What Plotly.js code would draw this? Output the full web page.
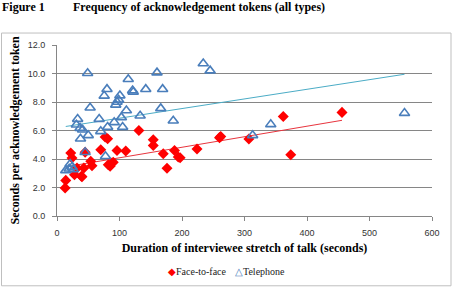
<!DOCTYPE html>
<html>
<head>
<meta charset="utf-8">
<script src="https://cdn.plot.ly/plotly-3.0.1.min.js"></script>
<style>
  html, body { margin: 0; padding: 0; background: #fff; }
  #chart { width: 455px; height: 296px; }
</style>
</head>
<body>
<div id="chart"></div>
<script>
// Face-to-face interviews: stretch duration (s) vs seconds per acknowledgement token
const faceX = [13, 14, 22, 24, 28, 32, 39, 40, 43, 45, 54, 56, 70, 77, 81, 82, 85, 88, 90, 96,
               110, 131, 154, 154, 170, 176, 188, 194, 197, 224, 260, 262, 307, 362, 374, 456];
const faceY = [1.97, 2.5, 4.42, 4.07, 2.9, 3.37, 2.79, 2.75, 3.37, 4.47, 3.84, 3.53, 4.65, 5.54, 5.42, 3.6, 3.49, 3.72, 3.77, 4.6,
               4.56, 6.0, 5.35, 4.95, 4.37, 3.35, 4.6, 4.14, 4.09, 4.7, 5.5, 5.58, 5.4, 6.98, 4.3, 7.27];

// Telephone interviews
const telX = [14, 19.5, 21, 24, 26, 31, 33, 37, 37.6, 41, 45, 49, 50, 53, 67.5, 70, 75.5, 77.6, 80, 81,
              91.5, 94, 96, 98.5, 100.6, 103, 105, 111, 114, 121, 122, 133, 142, 160, 166, 169, 186,
              234, 245, 313, 342, 556];
const telY = [3.2, 3.32, 3.65, 3.44, 3.26, 6.4, 6.8, 6.17, 5.42, 6.05, 4.47, 10.02, 5.66, 7.6, 6.8, 5.94, 8.43, 4.19, 8.9, 6.24,
              6.57, 7.8, 8.0, 8.15, 8.45, 6.92, 6.24, 7.4, 9.6, 8.8, 8.7, 7.03, 8.9, 10.06, 7.55, 8.9, 6.68,
              10.7, 10.2, 5.66, 6.43, 7.22];

const seriesNames = ['Face-to-face', 'Telephone'];
const xTicks = [0, 100, 200, 300, 400, 500, 600];
const yTicks = [0, 2, 4, 6, 8, 10, 12];

const faceColor = '#FF0000';
const telColor = '#4A7EBB';

// Ordinary least-squares line spanning the range of a series
function linearTrend(xs, ys) {
  const n = xs.length;
  const mx = xs.reduce((a, b) => a + b, 0) / n;
  const my = ys.reduce((a, b) => a + b, 0) / n;
  let sxy = 0, sxx = 0;
  for (let i = 0; i < n; i++) {
    sxy += (xs[i] - mx) * (ys[i] - my);
    sxx += (xs[i] - mx) * (xs[i] - mx);
  }
  const slope = sxy / sxx;
  const icpt = my - slope * mx;
  const x0 = Math.min(...xs), x1 = Math.max(...xs);
  return { x: [x0, x1], y: [icpt + slope * x0, icpt + slope * x1] };
}

const faceFit = linearTrend(faceX, faceY);
const telFit = linearTrend(telX, telY);

const serif = 'Liberation Serif, Times New Roman, serif';
const sans = 'Liberation Sans, Arial, sans-serif';

const traces = [
  {
    x: faceFit.x, y: faceFit.y, mode: 'lines', showlegend: false, hoverinfo: 'skip',
    line: { color: '#E8353E', width: 1 }
  },
  {
    x: telFit.x, y: telFit.y, mode: 'lines', showlegend: false, hoverinfo: 'skip',
    line: { color: '#4BACC6', width: 1 }
  },
  {
    name: seriesNames[0], x: faceX, y: faceY, mode: 'markers', type: 'scatter', showlegend: false,
    marker: { symbol: 'diamond', size: 8.5, color: faceColor }
  },
  {
    name: seriesNames[1], x: telX, y: telY, mode: 'markers', type: 'scatter', showlegend: false,
    marker: { symbol: 'triangle-up-open', size: 9, color: telColor, line: { width: 1.6, color: telColor } }
  }
];

// Compact key below the axis title: one entry per series
function keyEntry(symbol, color, label, px) {
  return {
    text: '<span style="color:' + color + '">' + symbol + '</span>' + label,
    xref: 'paper', yref: 'paper', x: (px - 57) / 375, y: -55.5 / 171.5,
    xanchor: 'left', yanchor: 'middle', showarrow: false,
    font: { family: serif, size: 10, color: '#222' }
  };
}

const layout = {
  width: 455, height: 296,
  paper_bgcolor: '#ffffff', plot_bgcolor: '#ffffff',
  margin: { l: 57, r: 23, t: 45, b: 79.5 },
  showlegend: false,
  xaxis: {
    range: [0, 600], tickvals: xTicks, ticktext: xTicks.map(String),
    showgrid: false, zeroline: false, showline: true, linecolor: '#868686', linewidth: 1,
    ticks: 'outside', ticklen: 4, tickcolor: '#868686', ticklabelstandoff: 4,
    tickfont: { family: sans, size: 9, color: '#333' },
    title: { text: '<b>Duration of interviewee stretch of talk (seconds)</b>', font: { family: serif, size: 12, color: '#000' }, standoff: 6 }
  },
  yaxis: {
    range: [0, 12], tickvals: yTicks, ticktext: yTicks.map(v => v.toFixed(1)),
    showgrid: true, gridcolor: '#868686', gridwidth: 1, zeroline: false,
    showline: true, linecolor: '#868686', linewidth: 1,
    ticks: 'outside', ticklen: 4, tickcolor: '#868686', ticklabelstandoff: 5,
    tickfont: { family: sans, size: 9, color: '#333' },
    title: { text: '<b>Seconds per acknowledgement token</b>', font: { family: serif, size: 12, color: '#000' }, standoff: 5 }
  },
  shapes: [
    { type: 'rect', xref: 'paper', yref: 'paper', layer: 'below',
      x0: -55.5 / 375, x1: 394 / 375, y0: -70 / 171.5, y1: 183.5 / 171.5,
      line: { color: '#BFBFBF', width: 1 }, fillcolor: 'rgba(0,0,0,0)' }
  ],
  annotations: [
    { text: '<b>Figure 1</b>', xref: 'paper', yref: 'paper', x: -57 / 375, y: 1 + 38 / 171.5,
      xanchor: 'left', yanchor: 'middle', showarrow: false, font: { family: serif, size: 12, color: '#000' } },
    { text: '<b>Frequency of acknowledgement tokens (all types)</b>', xref: 'paper', yref: 'paper',
      x: 14 / 375, y: 1 + 38 / 171.5, xanchor: 'left', yanchor: 'middle', showarrow: false,
      font: { family: serif, size: 12, color: '#000' } },
    keyEntry('◆', faceColor, seriesNames[0], 166),
    keyEntry('△', telColor, seriesNames[1], 233)
  ]
};

Plotly.newPlot('chart', traces, layout, { displayModeBar: false, staticPlot: true });
</script>
</body>
</html>
